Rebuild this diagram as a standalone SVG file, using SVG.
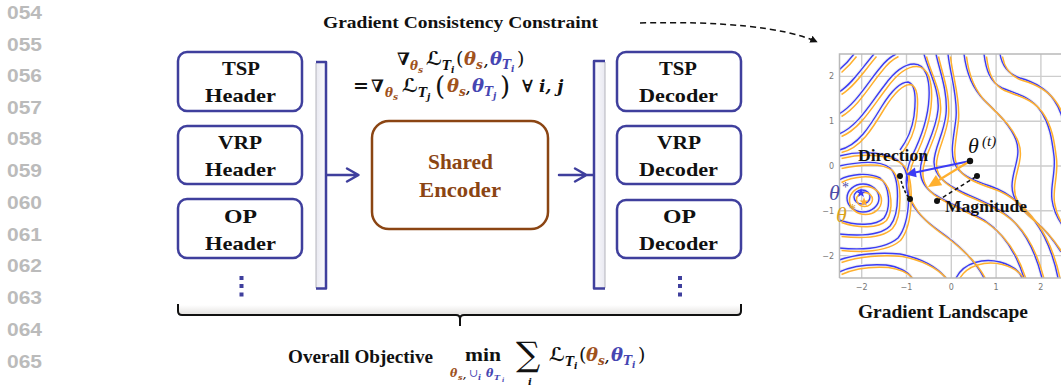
<svg xmlns="http://www.w3.org/2000/svg" width="1061" height="385" viewBox="0 0 1061 385">
<style>
.ln{font-family:"Liberation Sans",Arial,sans-serif;font-weight:bold;font-size:18.5px;fill:#bbbbbb}
.box{fill:#fff;stroke:#3f3f9d;stroke-width:2.5}
.t{font-family:"Liberation Serif","Times New Roman",serif;font-weight:bold;fill:#111}
.mi{font-family:"DejaVu Serif","DejaVu Sans",serif;font-weight:bold;font-style:italic;fill:#111}
.mu{font-family:"DejaVu Serif","DejaVu Sans",serif;fill:#111}
.br{fill:#a0521d}
.bl{fill:#4646b2}
.con{fill:none;stroke:#3f3f9d;stroke-width:2.5;stroke-linecap:round;stroke-linejoin:round}
.blue{fill:none;stroke:#3b3bf5;stroke-width:1.4}
.orng{fill:none;stroke:#ffb02e;stroke-width:1.5}
.halo{fill:none;stroke:#efefef;stroke-width:3.5}
.grid{stroke:#cdcdcd;stroke-width:1.4}
.tick{font-family:"DejaVu Sans",sans-serif;font-size:8px;fill:#777}
.dot{fill:#3f3f9d}
</style>
<defs>
<linearGradient id="barL" x1="0" y1="0" x2="1" y2="0"><stop offset="0" stop-color="#e9e9f1"/><stop offset="1" stop-color="#fbfbfe"/></linearGradient>
<linearGradient id="barR" x1="0" y1="0" x2="1" y2="0"><stop offset="0" stop-color="#fbfbfe"/><stop offset="1" stop-color="#e9e9f1"/></linearGradient>
<linearGradient id="brace" x1="0" y1="0" x2="0" y2="1"><stop offset="0" stop-color="#ffffff"/><stop offset="1" stop-color="#e4e2e0"/></linearGradient>
<marker id="ah" viewBox="0 0 10 10" refX="9" refY="5" markerWidth="5" markerHeight="5" orient="auto"><path d="M0,0 L10,5 L0,10 z" fill="#111"/></marker>
<clipPath id="plot"><rect x="839.5" y="54" width="224" height="224"/></clipPath>
<path id="star" d="M0,-5 L1.18,-1.62 4.76,-1.55 1.9,0.62 2.94,4.05 0,2 -2.94,4.05 -1.9,0.62 -4.76,-1.55 -1.18,-1.62 Z"/>
<g id="cont">
<path d="M839,70 C846,64 851,58 854,54"/>
<path d="M839,92 C852,84 862,68 874,54"/>
<path d="M839,114 C856,104 868,82 880,68 C886,60 892,56 896,54"/>
<path d="M839,134 C858,126 870,104 884,86 C894,72 904,64 914,64 C926,64 930,80 929,98 C928,120 920,140 912,156 C906,170 904,186 910,200 C918,216 932,226 946,236 C962,248 976,262 984,278"/>
<path d="M839,150 C858,146 870,126 882,106 C892,90 900,82 908,82 C916,84 916,100 914,116 C912,130 906,142 900,150"/>
<ellipse cx="862" cy="197" rx="8" ry="7"/>
<ellipse cx="863" cy="198" rx="16" ry="14"/>
<path d="M839,180 C850,174 868,172 880,178 C890,186 891,208 884,218 C876,226 856,226 839,220"/>
<path d="M839,166 C858,162 880,160 890,168 C900,178 900,214 890,226 C880,236 858,236 839,234"/>
<path d="M839,156 C862,150 892,152 902,164 C912,178 911,222 898,238 C884,250 860,250 839,248"/>
<path d="M839,260 C856,254 880,252 900,254 C920,258 936,266 946,278"/>
<path d="M839,272 C852,266 870,264 886,265 C900,267 908,272 912,278"/>
<path d="M924,54 C928,70 940,90 938,110 C936,130 926,146 922,160 C918,174 922,186 934,194 C950,204 966,210 984,220 C1002,232 1016,252 1024,278"/>
<path d="M936,54 C940,72 948,92 946,114 C944,134 934,148 934,162 C934,176 946,184 962,192 C980,200 996,206 1010,218 C1026,232 1036,254 1042,278"/>
<path d="M948,54 C950,74 958,96 956,118 C954,136 950,150 954,162 C958,174 972,180 990,186 C1008,192 1022,204 1034,220 C1046,236 1054,258 1058,278"/>
<path d="M964,54 C966,70 972,88 984,100 C996,112 1010,124 1016,140 C1022,156 1012,170 1012,186 C1012,200 1022,210 1034,220 C1046,230 1056,244 1061,252"/>
<path d="M984,54 C986,70 990,82 1002,88 C1016,94 1030,96 1040,110 C1050,124 1052,140 1054,156 C1056,172 1050,186 1052,200 C1054,214 1060,222 1063,226"/>
<path d="M1000,54 C1002,66 1008,74 1020,78 C1034,82 1046,88 1054,100 C1061,110 1063,120 1063,124"/>
<path d="M956,278 C964,262 984,258 1000,262 C1014,266 1020,272 1022,278"/>
</g>
</defs>

<rect width="1061" height="385" fill="#fff"/>

<g id="line-numbers">
<text class="ln" x="7" y="19" textLength="35" lengthAdjust="spacingAndGlyphs">054</text>
<text class="ln" x="7" y="50.5" textLength="35" lengthAdjust="spacingAndGlyphs">055</text>
<text class="ln" x="7" y="82" textLength="35" lengthAdjust="spacingAndGlyphs">056</text>
<text class="ln" x="7" y="113.5" textLength="35" lengthAdjust="spacingAndGlyphs">057</text>
<text class="ln" x="7" y="145" textLength="35" lengthAdjust="spacingAndGlyphs">058</text>
<text class="ln" x="7" y="177" textLength="35" lengthAdjust="spacingAndGlyphs">059</text>
<text class="ln" x="7" y="208.5" textLength="35" lengthAdjust="spacingAndGlyphs">060</text>
<text class="ln" x="7" y="240.5" textLength="35" lengthAdjust="spacingAndGlyphs">061</text>
<text class="ln" x="7" y="272" textLength="35" lengthAdjust="spacingAndGlyphs">062</text>
<text class="ln" x="7" y="304" textLength="35" lengthAdjust="spacingAndGlyphs">063</text>
<text class="ln" x="7" y="336" textLength="35" lengthAdjust="spacingAndGlyphs">064</text>
<text class="ln" x="7" y="368" textLength="35" lengthAdjust="spacingAndGlyphs">065</text>
<text class="ln" x="7" y="398" textLength="35" lengthAdjust="spacingAndGlyphs">066</text>
</g>

<g id="title">
<text class="t" x="323" y="28" font-size="17.5" textLength="275" lengthAdjust="spacingAndGlyphs">Gradient Consistency Constraint</text>
</g>

<g id="constraint-formula">
<text class="mi" x="397" y="65" font-size="17">∇</text>
<text class="mi br" x="410" y="70" font-size="12">θ</text>
<text class="mi br" x="418" y="73" font-size="9">s</text>
<text class="mi" x="426" y="65" font-size="19">ℒ</text>
<text class="mi" x="442" y="70" font-size="12">T</text>
<text class="mi" x="451" y="73" font-size="9">i</text>
<text class="mu" x="456" y="65" font-size="19">(</text>
<text class="mi br" x="464" y="65" font-size="18">θ</text>
<text class="mi br" x="476" y="69" font-size="12">s</text>
<text class="mi" x="484" y="66" font-size="12">,</text>
<text class="mi bl" x="490" y="65" font-size="18">θ</text>
<text class="mi bl" x="502" y="69" font-size="12">T</text>
<text class="mi bl" x="511" y="72" font-size="9">i</text>
<text class="mu" x="517" y="65" font-size="19">)</text>

<text class="mu" x="353" y="92" font-size="19" font-weight="bold">=</text>
<text class="mi" x="371" y="92" font-size="17">∇</text>
<text class="mi br" x="385" y="97" font-size="12">θ</text>
<text class="mi br" x="393" y="100" font-size="9">s</text>
<text class="mi" x="402" y="92" font-size="19">ℒ</text>
<text class="mi" x="418" y="97" font-size="12">T</text>
<text class="mi" x="427" y="100" font-size="9">j</text>
<text class="mu" x="435" y="95" font-size="26">(</text>
<text class="mi br" x="447" y="92" font-size="18">θ</text>
<text class="mi br" x="459" y="96" font-size="12">s</text>
<text class="mi" x="466" y="93" font-size="12">,</text>
<text class="mi bl" x="472" y="92" font-size="18">θ</text>
<text class="mi bl" x="484" y="96" font-size="12">T</text>
<text class="mi bl" x="493" y="99" font-size="9">j</text>
<text class="mu" x="500" y="95" font-size="26">)</text>
<text class="mu" x="522" y="92" font-size="17" font-weight="bold">∀</text>
<text class="mi" x="539" y="92" font-size="17">i, j</text>
</g>

<g id="header-tsp">
<rect class="box" x="178" y="52" width="124" height="59" rx="9"/>
<text class="t" x="222" y="75" font-size="19" textLength="38" lengthAdjust="spacingAndGlyphs">TSP</text>
<text class="t" x="205" y="102" font-size="19" textLength="71" lengthAdjust="spacingAndGlyphs">Header</text>
</g>
<g id="header-vrp">
<rect class="box" x="178" y="126" width="124" height="58" rx="9"/>
<text class="t" x="218" y="149" font-size="19" textLength="44" lengthAdjust="spacingAndGlyphs">VRP</text>
<text class="t" x="205" y="176" font-size="19" textLength="71" lengthAdjust="spacingAndGlyphs">Header</text>
</g>
<g id="header-op">
<rect class="box" x="178" y="199" width="124" height="59" rx="9"/>
<text class="t" x="224" y="223" font-size="19" textLength="33" lengthAdjust="spacingAndGlyphs">OP</text>
<text class="t" x="205" y="250" font-size="19" textLength="71" lengthAdjust="spacingAndGlyphs">Header</text>
</g>
<g id="header-dots">
<rect class="dot" x="239.5" y="276" width="4" height="4"/>
<rect class="dot" x="239.5" y="284" width="4" height="4"/>
<rect class="dot" x="239.5" y="292.5" width="4" height="4"/>
</g>

<g id="bracket-left">
<rect x="316" y="62" width="10" height="226.5" fill="url(#barL)"/>
<line x1="316" y1="63" x2="316" y2="288" stroke="#b4b4bc" stroke-width="1"/>
<path d="M316,62 H326 V288.5 H316" fill="none" stroke="#3f3f9d" stroke-width="2.5" stroke-linejoin="round"/>
</g>

<g id="shared-encoder">
<rect x="372" y="121" width="176" height="108" rx="17" fill="#fff" stroke="#8b4513" stroke-width="2.5"/>
<text class="t" x="428" y="169" font-size="21" textLength="65" lengthAdjust="spacingAndGlyphs" style="fill:#8b4513">Shared</text>
<text class="t" x="419" y="197" font-size="21" textLength="82" lengthAdjust="spacingAndGlyphs" style="fill:#8b4513">Encoder</text>
</g>

<g id="bracket-right">
<rect x="594" y="61" width="11" height="227.5" fill="url(#barR)"/>
<line x1="605" y1="62" x2="605" y2="288" stroke="#b4b4bc" stroke-width="1"/>
<path d="M605,61 H594 V288.5 H605" fill="none" stroke="#3f3f9d" stroke-width="2.5" stroke-linejoin="round"/>
</g>

<g id="decoder-tsp">
<rect class="box" x="617" y="52" width="124" height="59" rx="9"/>
<text class="t" x="659" y="75" font-size="19" textLength="38" lengthAdjust="spacingAndGlyphs">TSP</text>
<text class="t" x="639" y="102" font-size="19" textLength="79" lengthAdjust="spacingAndGlyphs">Decoder</text>
</g>
<g id="decoder-vrp">
<rect class="box" x="617" y="126" width="124" height="58" rx="9"/>
<text class="t" x="657" y="149" font-size="19" textLength="44" lengthAdjust="spacingAndGlyphs">VRP</text>
<text class="t" x="639" y="176" font-size="19" textLength="79" lengthAdjust="spacingAndGlyphs">Decoder</text>
</g>
<g id="decoder-op">
<rect class="box" x="617" y="200" width="124" height="58" rx="9"/>
<text class="t" x="663" y="223" font-size="19" textLength="33" lengthAdjust="spacingAndGlyphs">OP</text>
<text class="t" x="639" y="250" font-size="19" textLength="79" lengthAdjust="spacingAndGlyphs">Decoder</text>
</g>
<g id="decoder-dots">
<rect class="dot" x="678" y="276" width="4" height="4"/>
<rect class="dot" x="678" y="284" width="4" height="4"/>
<rect class="dot" x="678" y="292.5" width="4" height="4"/>
</g>

<g id="connectors">
<path class="con" d="M327,175 H358 M347,168.5 L358.5,175 L347,181.5"/>
<path class="con" d="M559,175 H593 M575,168.5 L586.5,175 L575,181.5"/>
<path d="M640,23 C720,21 785,27 817,42" fill="none" stroke="#111" stroke-width="1.5" stroke-dasharray="6,4" marker-end="url(#ah)"/>
</g>

<g id="overall-brace">
<rect x="179" y="305" width="561" height="9.5" fill="url(#brace)"/>
<path d="M178,304 V311 Q178,315 182,315 H456 Q460,315 460,319 V326 M460,319 Q460,315 464,315 H737 Q741,315 741,311 V304" fill="none" stroke="#111" stroke-width="2"/>
</g>

<g id="overall-objective">
<text class="t" x="288" y="363" font-size="18.5" textLength="145" lengthAdjust="spacingAndGlyphs">Overall Objective</text>
<text class="t" x="465" y="361" font-size="19" textLength="36" lengthAdjust="spacingAndGlyphs">min</text>
<text class="mi br" x="450" y="377" font-size="11">θ</text>
<text class="mi br" x="458" y="380" font-size="8">s</text>
<text class="mi" x="463" y="378" font-size="9">,</text>
<text class="mu bl" x="469" y="377" font-size="11">∪</text>
<text class="mi bl" x="478" y="380" font-size="8">i</text>
<text class="mi bl" x="486" y="377" font-size="11">θ</text>
<text class="mi bl" x="494" y="380" font-size="8">T</text>
<text class="mi bl" x="502" y="382" font-size="6">i</text>
<text class="mu" x="516" y="366" font-size="34">∑</text>
<text class="mi" x="528" y="385" font-size="10">i</text>
<text class="mi" x="549" y="361" font-size="19">ℒ</text>
<text class="mi" x="565" y="366" font-size="12">T</text>
<text class="mi" x="574" y="369" font-size="9">i</text>
<text class="mu" x="579" y="361" font-size="19">(</text>
<text class="mi br" x="586" y="361" font-size="18">θ</text>
<text class="mi br" x="598" y="365" font-size="12">s</text>
<text class="mi" x="605" y="362" font-size="12">,</text>
<text class="mi bl" x="611" y="361" font-size="18">θ</text>
<text class="mi bl" x="623" y="365" font-size="12">T</text>
<text class="mi bl" x="632" y="368" font-size="9">i</text>
<text class="mu" x="638" y="361" font-size="19">)</text>
</g>

<g id="gradient-landscape">
<rect x="839.5" y="54" width="224" height="224" fill="#fff"/>
<g class="grid">
<line x1="861.7" y1="54" x2="861.7" y2="278"/>
<line x1="906.5" y1="54" x2="906.5" y2="278"/>
<line x1="951.3" y1="54" x2="951.3" y2="278"/>
<line x1="996.1" y1="54" x2="996.1" y2="278"/>
<line x1="1040.9" y1="54" x2="1040.9" y2="278"/>
<line x1="839.5" y1="76.4" x2="1063" y2="76.4"/>
<line x1="839.5" y1="121.2" x2="1063" y2="121.2"/>
<line x1="839.5" y1="166" x2="1063" y2="166"/>
<line x1="839.5" y1="210.8" x2="1063" y2="210.8"/>
<line x1="839.5" y1="255.6" x2="1063" y2="255.6"/>
</g>
<g clip-path="url(#plot)">
<use href="#cont" class="halo"/>
<use href="#cont" class="blue"/>
<use href="#cont" class="orng" transform="translate(2.5,2.5)"/>
</g>
<path d="M839.5,278 V54 H1063 M839.5,278 H1063" fill="none" stroke="#b9b9b9" stroke-width="1.5"/>
<text class="tick" x="834" y="79.4" text-anchor="end">2</text>
<text class="tick" x="834" y="124.2" text-anchor="end">1</text>
<text class="tick" x="834" y="169" text-anchor="end">0</text>
<text class="tick" x="834" y="213.8" text-anchor="end">−1</text>
<text class="tick" x="834" y="258.6" text-anchor="end">−2</text>
<text class="tick" x="861.7" y="290" text-anchor="middle">−2</text>
<text class="tick" x="906.5" y="290" text-anchor="middle">−1</text>
<text class="tick" x="951.3" y="290" text-anchor="middle">0</text>
<text class="tick" x="996.1" y="290" text-anchor="middle">1</text>
<text class="tick" x="1040.9" y="290" text-anchor="middle">2</text>

<path d="M900,176 C902,186 905,193 910,199" fill="none" stroke="#111" stroke-width="1.5" stroke-dasharray="3,2"/>
<line x1="937" y1="201" x2="977" y2="176" stroke="#111" stroke-width="1.5" stroke-dasharray="4,3"/>
<line x1="970" y1="161" x2="915" y2="172.5" stroke="#3b3bf5" stroke-width="2"/>
<polygon points="906,174.5 916.7,177.3 914.9,167.5" fill="#3b3bf5"/>
<line x1="970" y1="161" x2="939" y2="180" stroke="#ffb02e" stroke-width="2.2"/>
<polygon points="928,187 942.2,185.3 935.9,175.1" fill="#ffb02e"/>
<circle cx="970" cy="161" r="3.2" fill="#111"/>
<circle cx="900" cy="176" r="3" fill="#111"/>
<circle cx="910" cy="199" r="3" fill="#111"/>
<circle cx="977" cy="176" r="3" fill="#111"/>
<circle cx="937" cy="201" r="3" fill="#111"/>
<use href="#star" x="861" y="193" fill="#3b3bf5"/>
<use href="#star" x="864" y="202" fill="#ffad33"/>
<text x="968" y="153" font-family="Liberation Serif,serif" font-style="italic" font-size="22" fill="#111">θ</text>
<text x="982" y="146" font-family="Liberation Serif,serif" font-style="italic" font-size="15" fill="#111">(t)</text>
<text x="829" y="200" font-family="Liberation Serif,serif" font-style="italic" font-size="22" fill="#4b4ba8">θ</text>
<text x="842" y="192" font-family="Liberation Serif,serif" font-size="14" fill="#4b4ba8">*</text>
<text x="836" y="222" font-family="Liberation Serif,serif" font-style="italic" font-size="22" fill="#d9a21b">θ</text>
<text x="849" y="214" font-family="Liberation Serif,serif" font-size="14" fill="#d9a21b">*</text>
<text class="t" x="858" y="161" font-size="16" textLength="70" lengthAdjust="spacingAndGlyphs">Direction</text>
<text class="t" x="945" y="212" font-size="16" textLength="82" lengthAdjust="spacingAndGlyphs">Magnitude</text>
<text class="t" x="858" y="318" font-size="19" textLength="170" lengthAdjust="spacingAndGlyphs">Gradient Landscape</text>
</g>
</svg>
